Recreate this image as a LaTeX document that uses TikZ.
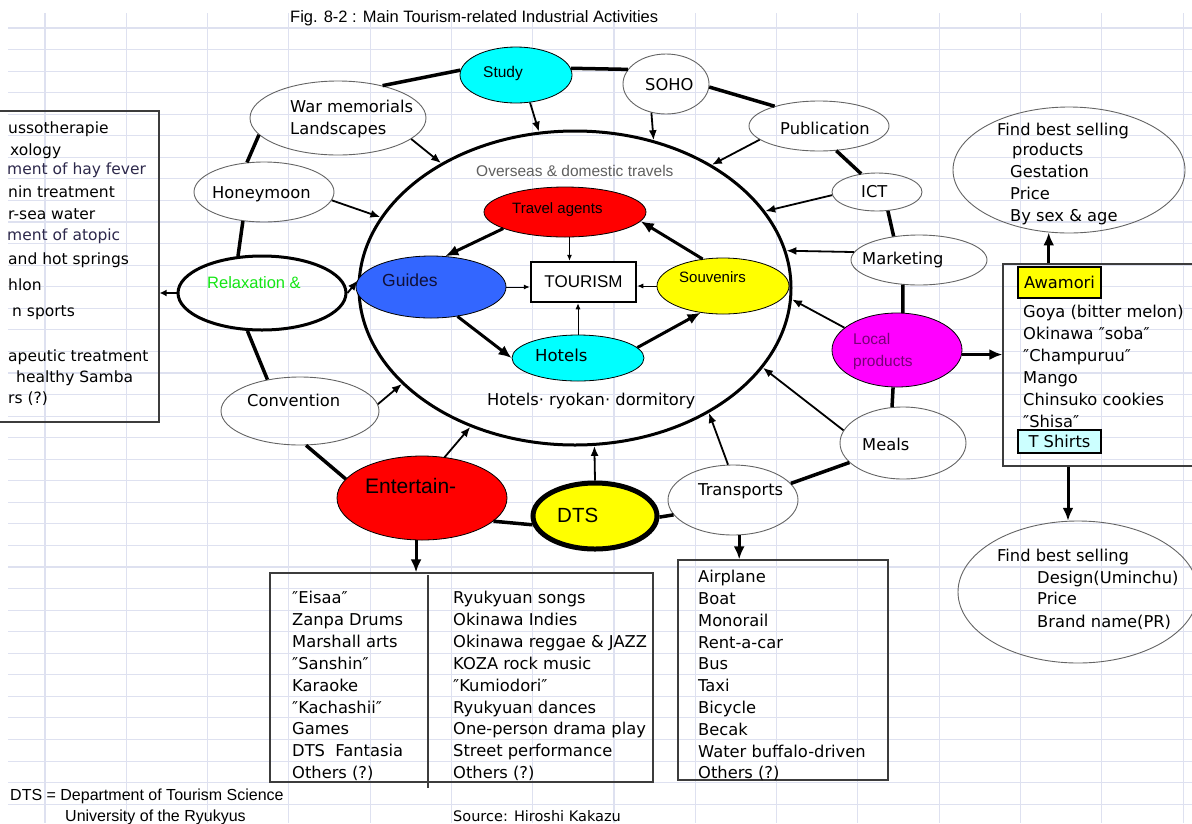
\documentclass[tikz,border=0pt]{standalone}
\usepackage{fontspec}
\setmainfont{Liberation Sans}
\newfontfamily\dvs{DejaVu Sans}
\usetikzlibrary{shapes.geometric,arrows.meta,calc}
\definecolor{gridc}{RGB}{222,225,240}
\definecolor{cyanc}{RGB}{0,255,255}
\definecolor{redc}{RGB}{255,0,0}
\definecolor{bluec}{RGB}{51,102,255}
\definecolor{yelc}{RGB}{255,255,0}
\definecolor{magc}{RGB}{255,0,255}
\definecolor{ltcyan}{RGB}{204,255,255}
\definecolor{greenc}{RGB}{20,230,20}
\definecolor{purp}{RGB}{120,0,120}
\definecolor{outl}{RGB}{100,100,100}
\definecolor{boxc}{RGB}{60,60,60}
\definecolor{navyt}{RGB}{45,40,75}
\definecolor{guidet}{RGB}{15,15,55}
\definecolor{grayt}{RGB}{95,95,95}
\newcommand\lfont{\dvs\fontsize{16.3}{19}\selectfont}
\newcommand\sfont{\dvs\fontsize{15.5}{18}\selectfont}
\tikzset{
  gridl/.style={draw=gridc, line width=1.1pt},
  oval/.style={ellipse, draw=outl, line width=0.9pt, inner sep=0pt},
  cfill/.style={ellipse, draw=black, line width=0.8pt, inner sep=0pt, fill=#1},
  boxs/.style={rectangle, draw=boxc, line width=1.2pt, inner sep=0pt},
  ring/.style={line width=3.5pt},
  toc/.style={line width=1.8pt, -{Latex[length=10pt,width=8pt]}},
  thk/.style={line width=3pt, -{Latex[length=13pt,width=11pt]}},
  thn/.style={line width=0.9pt, -{Latex[length=6pt,width=5pt]}},
  lst/.style={anchor=base west, inner sep=0pt, font=\lfont},
  lsts/.style={anchor=base west, inner sep=0pt, font=\sfont},
  lib/.style={anchor=base west, inner sep=0pt, font={\fontsize{#1}{#1}\selectfont}},
}
\begin{document}
\begin{tikzpicture}[x=1pt,y=-1pt]
\useasboundingbox (0,0) rectangle (1192,823);
\clip (0,0) rectangle (1192,823);
% spreadsheet grid
\foreach \k in {0,...,14} \draw[gridl] ({45+81.29*\k},13) -- ({45+81.29*\k},823);
\foreach \k in {0,...,36} \draw[gridl] (8,{28+21.56*\k}) -- (1192,{28+21.56*\k});

% title
\node[lib=16.5] (title) at (290,22) {Fig. 8-2 : Main Tourism-related Industrial Activities};

% boxes
\node[boxs, minimum width=179pt, minimum height=311pt] (lbox) at (69.5,266.5) {};
\node[boxs, minimum width=237pt, minimum height=202pt] (rbox) at (1121.5,365) {};
\node[boxs, minimum width=383pt, minimum height=209pt] (ebox) at (461.5,677.5) {};
\node[boxs, minimum width=210pt, minimum height=220pt] (tbox) at (783,670) {};
\coordinate (dv1) at (428,575);
\coordinate (dv2) at (428,788);
\draw[draw=boxc, line width=1.2pt] (dv1) -- (dv2);

% big circle
\node[ellipse, draw=black, line width=3pt, inner sep=0pt, minimum width=432pt, minimum height=314pt] (big) at (575,288) {};

% outer ellipses
\node[oval, minimum width=176pt, minimum height=74pt] (war) at (338,118) {};
\node[cfill=cyanc, minimum width=112pt, minimum height=56pt] (study) at (516,75) {};
\node[oval, minimum width=86pt, minimum height=60pt] (soho) at (666,84) {};
\node[oval, minimum width=140pt, minimum height=50pt] (pub) at (819,126) {};
\node[oval, minimum width=140pt, minimum height=60pt] (honey) at (264,192) {};
\node[oval, minimum width=90pt, minimum height=38pt] (ict) at (877,192) {};
\node[oval, minimum width=136pt, minimum height=50pt] (mkt) at (919,260) {};
\node[ellipse, draw=black, line width=3pt, inner sep=0pt, minimum width=168pt, minimum height=74pt] (relax) at (262,293) {};
\node[cfill=magc, minimum width=130pt, minimum height=74pt] (local) at (897,350) {};
\node[oval, minimum width=158pt, minimum height=68pt] (conv) at (300,411) {};
\node[oval, minimum width=126pt, minimum height=72pt] (meals) at (903,443) {};
\node[cfill=redc, minimum width=170pt, minimum height=84pt] (ent) at (422,498) {};
\node[ellipse, draw=black, fill=yelc, line width=5pt, inner sep=0pt, minimum width=124pt, minimum height=66pt] (dts) at (595,516) {};
\node[oval, minimum width=130pt, minimum height=70pt] (trans) at (733,500) {};
\node[oval, minimum width=232pt, minimum height=126pt] (fbs1) at (1069,170) {};
\node[oval, minimum width=240pt, minimum height=142pt] (fbs2) at (1078,592) {};

% inner nodes
\node[cfill=redc, minimum width=162pt, minimum height=50pt] (ta) at (565,212) {};
\node[cfill=bluec, minimum width=150pt, minimum height=62pt] (guides) at (431,287) {};
\node[rectangle, draw=black, fill=white, line width=2.5pt, inner sep=0pt, minimum width=105pt, minimum height=40pt, font={\fontsize{17}{17}\selectfont}] (tour) at (583.5,282) {TOURISM};
\node[cfill=yelc, minimum width=132pt, minimum height=56pt] (souv) at (723,286) {};
\node[cfill=cyanc, minimum width=132pt, minimum height=46pt] (hotels) at (578,358) {};

% ring connectors
\draw[ring] (war.36) -- (study.175);
\draw[ring] (study.7) -- (soho.159);
\draw[ring] (soho.-4) -- (pub.156);
\draw[ring] (pub.-55) -- (ict.131);
\draw[ring] (ict.-60) -- (mkt.137);
\draw[ring] (mkt.237) -- (local.81);
\draw[ring] (local.264) -- (meals.107);
\draw[ring] (meals.200) -- (trans.16);
\draw[ring] (trans.194) -- (dts.-1);
\draw[ring] (dts.188) -- (ent.-18);
\draw[ring] (ent.166) -- (conv.280);
\draw[ring] (conv.136) -- (relax.249);
\draw[ring] (relax.123) -- (honey.234);
\draw[ring] (honey.120) -- (war.192);

% arrows into the big circle
\draw[toc] (war.-16) -- (big.137);
\draw[toc] (study.-63) -- (big.103);
\draw[toc] (soho.243) -- (big.62);
\draw[toc] (pub.193) -- (big.42);
\draw[toc] (honey.-7) -- (big.160);
\draw[toc] (ict.184) -- (big.22);
\draw[toc] (mkt.173) -- (big.10);
\draw[toc] (local.157) -- (big.-3);
\draw[toc] (meals.168) -- (big.-23);
\draw[toc] (trans.98) -- (big.-43);
\draw[toc] (dts.90) -- (big.-83);
\draw[toc] (ent.61) -- (big.233);
\draw[toc] (conv.5) -- (big.209);
\draw[toc] (relax.east) -- (big.178);

% inner arrows
\draw[thk] (ta.195) -- (guides.65);
\draw[thn] (ta.-80) -- (ta.-80 |- tour.north);
\draw[thn] (guides.east) -- (guides.east -| tour.west);
\draw[thn] (souv.west) -- (souv.west -| tour.east);
\draw[thn] (hotels.north) -- (hotels.north |- tour.south);
\draw[thk] (guides.-48) -- (hotels.west);
\draw[thk] (hotels.10) -- (souv.230);
\draw[thk] (souv.127) -- (ta.-7);

% side arrows
\draw[line width=2pt, -{Latex[length=7pt,width=7pt]}] (relax.west) -- (relax.west -| lbox.east);
\draw[thk] (local.-4) -- (local.-4 -| rbox.west);
\draw[thk] (fbs1.252 |- rbox.north) -- (fbs1.252);
\draw[thk] (fbs2.98 |- rbox.south) -- (fbs2.98);
\draw[thk] (ent.262) -- (ent.262 |- ebox.north);
\draw[thk] (trans.-80) -- (trans.-80 |- tbox.north);

% labels of ellipses
\node[lst] (twar1) at (290,112) {War memorials};
\node[lst] (twar2) at (290,134) {Landscapes};
\node[lib=15.5] (tstudy) at (483,77) {Study};
\node[lst] (tsoho) at (645,90) {SOHO};
\node[lst] (tpub) at (780,134) {Publication};
\node[lst] (thoney) at (212,198) {Honeymoon};
\node[lst] (tict) at (861,197) {ICT};
\node[lst] (tmkt) at (862,264) {Marketing};
\node[lib=16.5, text=greenc] (trelax) at (207,288) {Relaxation \&};
\node[lib=15.5, text=purp] (tloc1) at (853,344) {Local};
\node[lib=15.5, text=purp] (tloc2) at (853,366) {products};
\node[lst] (tconv) at (247,406) {Convention};
\node[lst] (tmeals) at (862,450) {Meals};
\node[lib=21] (tent) at (365,493) {Entertain-};
\node[lib=20.5] (tdts) at (557,522) {DTS};
\node[lst] (ttrans) at (698,495) {Transports};

% inner labels
\node[lib=15.5, text=grayt] (tover) at (476,176) {Overseas \& domestic travels};
\node[lib=15] (tta) at (512,213) {Travel agents};
\node[lib=17.5, text=guidet] (tguides) at (382,286) {Guides};
\node[lib=15] (tsouv) at (679,282) {Souvenirs};
\node[anchor=base west, inner sep=0pt, font={\dvs\fontsize{16.5}{16.5}\selectfont}] (thotels) at (535,361) {Hotels};
\node[lst] (tryokan) at (487,405) {Hotels· ryokan· dormitory};

% left box (cut at the page edge)
\node[lsts] (l1) at (8,133) {ussotherapie};
\node[lsts] (l2) at (10,155) {xology};
\node[lsts, text=navyt] (l3) at (7,174) {ment of hay fever};
\node[lsts] (l4) at (8,197) {nin treatment};
\node[lsts] (l5) at (8,219) {r-sea water};
\node[lsts, text=navyt] (l6) at (7,240) {ment of atopic};
\node[lsts] (l7) at (8,264) {and hot springs};
\node[lsts] (l8) at (8,290) {hlon};
\node[lsts] (l9) at (12,316) {n sports};
\node[lsts] (l10) at (8,361) {apeutic treatment};
\node[lsts] (l11) at (16,382) {healthy Samba};
\node[lsts] (l12) at (8,403) {rs (?)};

% upper right ellipse
\node[lst] (f1a) at (997,135) {Find best selling};
\node[lst] (f1b) at (1012,155) {products};
\node[lst] (f1c) at (1010,177) {Gestation};
\node[lst] (f1d) at (1010,199) {Price};
\node[lst] (f1e) at (1010,221) {By sex \& age};

% right box
\node[rectangle, draw=black, fill=yelc, line width=1.5pt, inner sep=0pt, minimum width=83pt, minimum height=31pt, font=\lfont] (aw) at (1059.5,282.5) {Awamori};
\foreach \t [count=\i from 0] in {Goya (bitter melon), Okinawa ″soba″, ″Champuruu″, Mango, Chinsuko cookies, ″Shisa″}
  \node[lst] (r\i) at (1023,{317.5+22*\i}) {\t};
\node[rectangle, draw=black, fill=ltcyan, line width=1.5pt, inner sep=0pt, minimum width=83pt, minimum height=23pt, font=\lfont] (tsh) at (1059.5,441.5) {T Shirts};

% lower right ellipse
\node[lst] (f2a) at (997,561) {Find best selling};
\node[lst] (f2b) at (1037,583) {Design(Uminchu)};
\node[lst] (f2c) at (1037,604) {Price};
\node[lst] (f2d) at (1037,627) {Brand name(PR)};

% entertainment box
\foreach \t [count=\i from 0] in {″Eisaa″, Zanpa Drums, Marshall arts, ″Sanshin″, Karaoke, ″Kachashii″, Games, DTS~~Fantasia, Others (?)}
  \node[lst] (el\i) at (292,{603.8+21.85*\i}) {\t};
\foreach \t [count=\i from 0] in {Ryukyuan songs, Okinawa Indies, Okinawa reggae \& JAZZ, KOZA rock music, ″Kumiodori″, Ryukyuan dances, One-person drama play, Street performance, Others (?)}
  \node[lst] (er\i) at (453,{603.8+21.85*\i}) {\t};

% transport box
\foreach \t [count=\i from 0] in {Airplane, Boat, Monorail, Rent-a-car, Bus, Taxi, Bicycle, Becak, Water buffalo-driven, Others (?)}
  \node[lst] (tr\i) at (698,{582.8+21.78*\i}) {\t};

% footer
\node[lib=16] (foot1) at (10,800.5) {DTS = Department of Tourism Science};
\node[lib=16] (foot2) at (65,821) {University of the Ryukyus};
\node[anchor=base west, inner sep=0pt, font={\dvs\fontsize{14.5}{14.5}\selectfont}] (foot3) at (453,821) {Source: Hiroshi Kakazu};
\end{tikzpicture}
\end{document}
